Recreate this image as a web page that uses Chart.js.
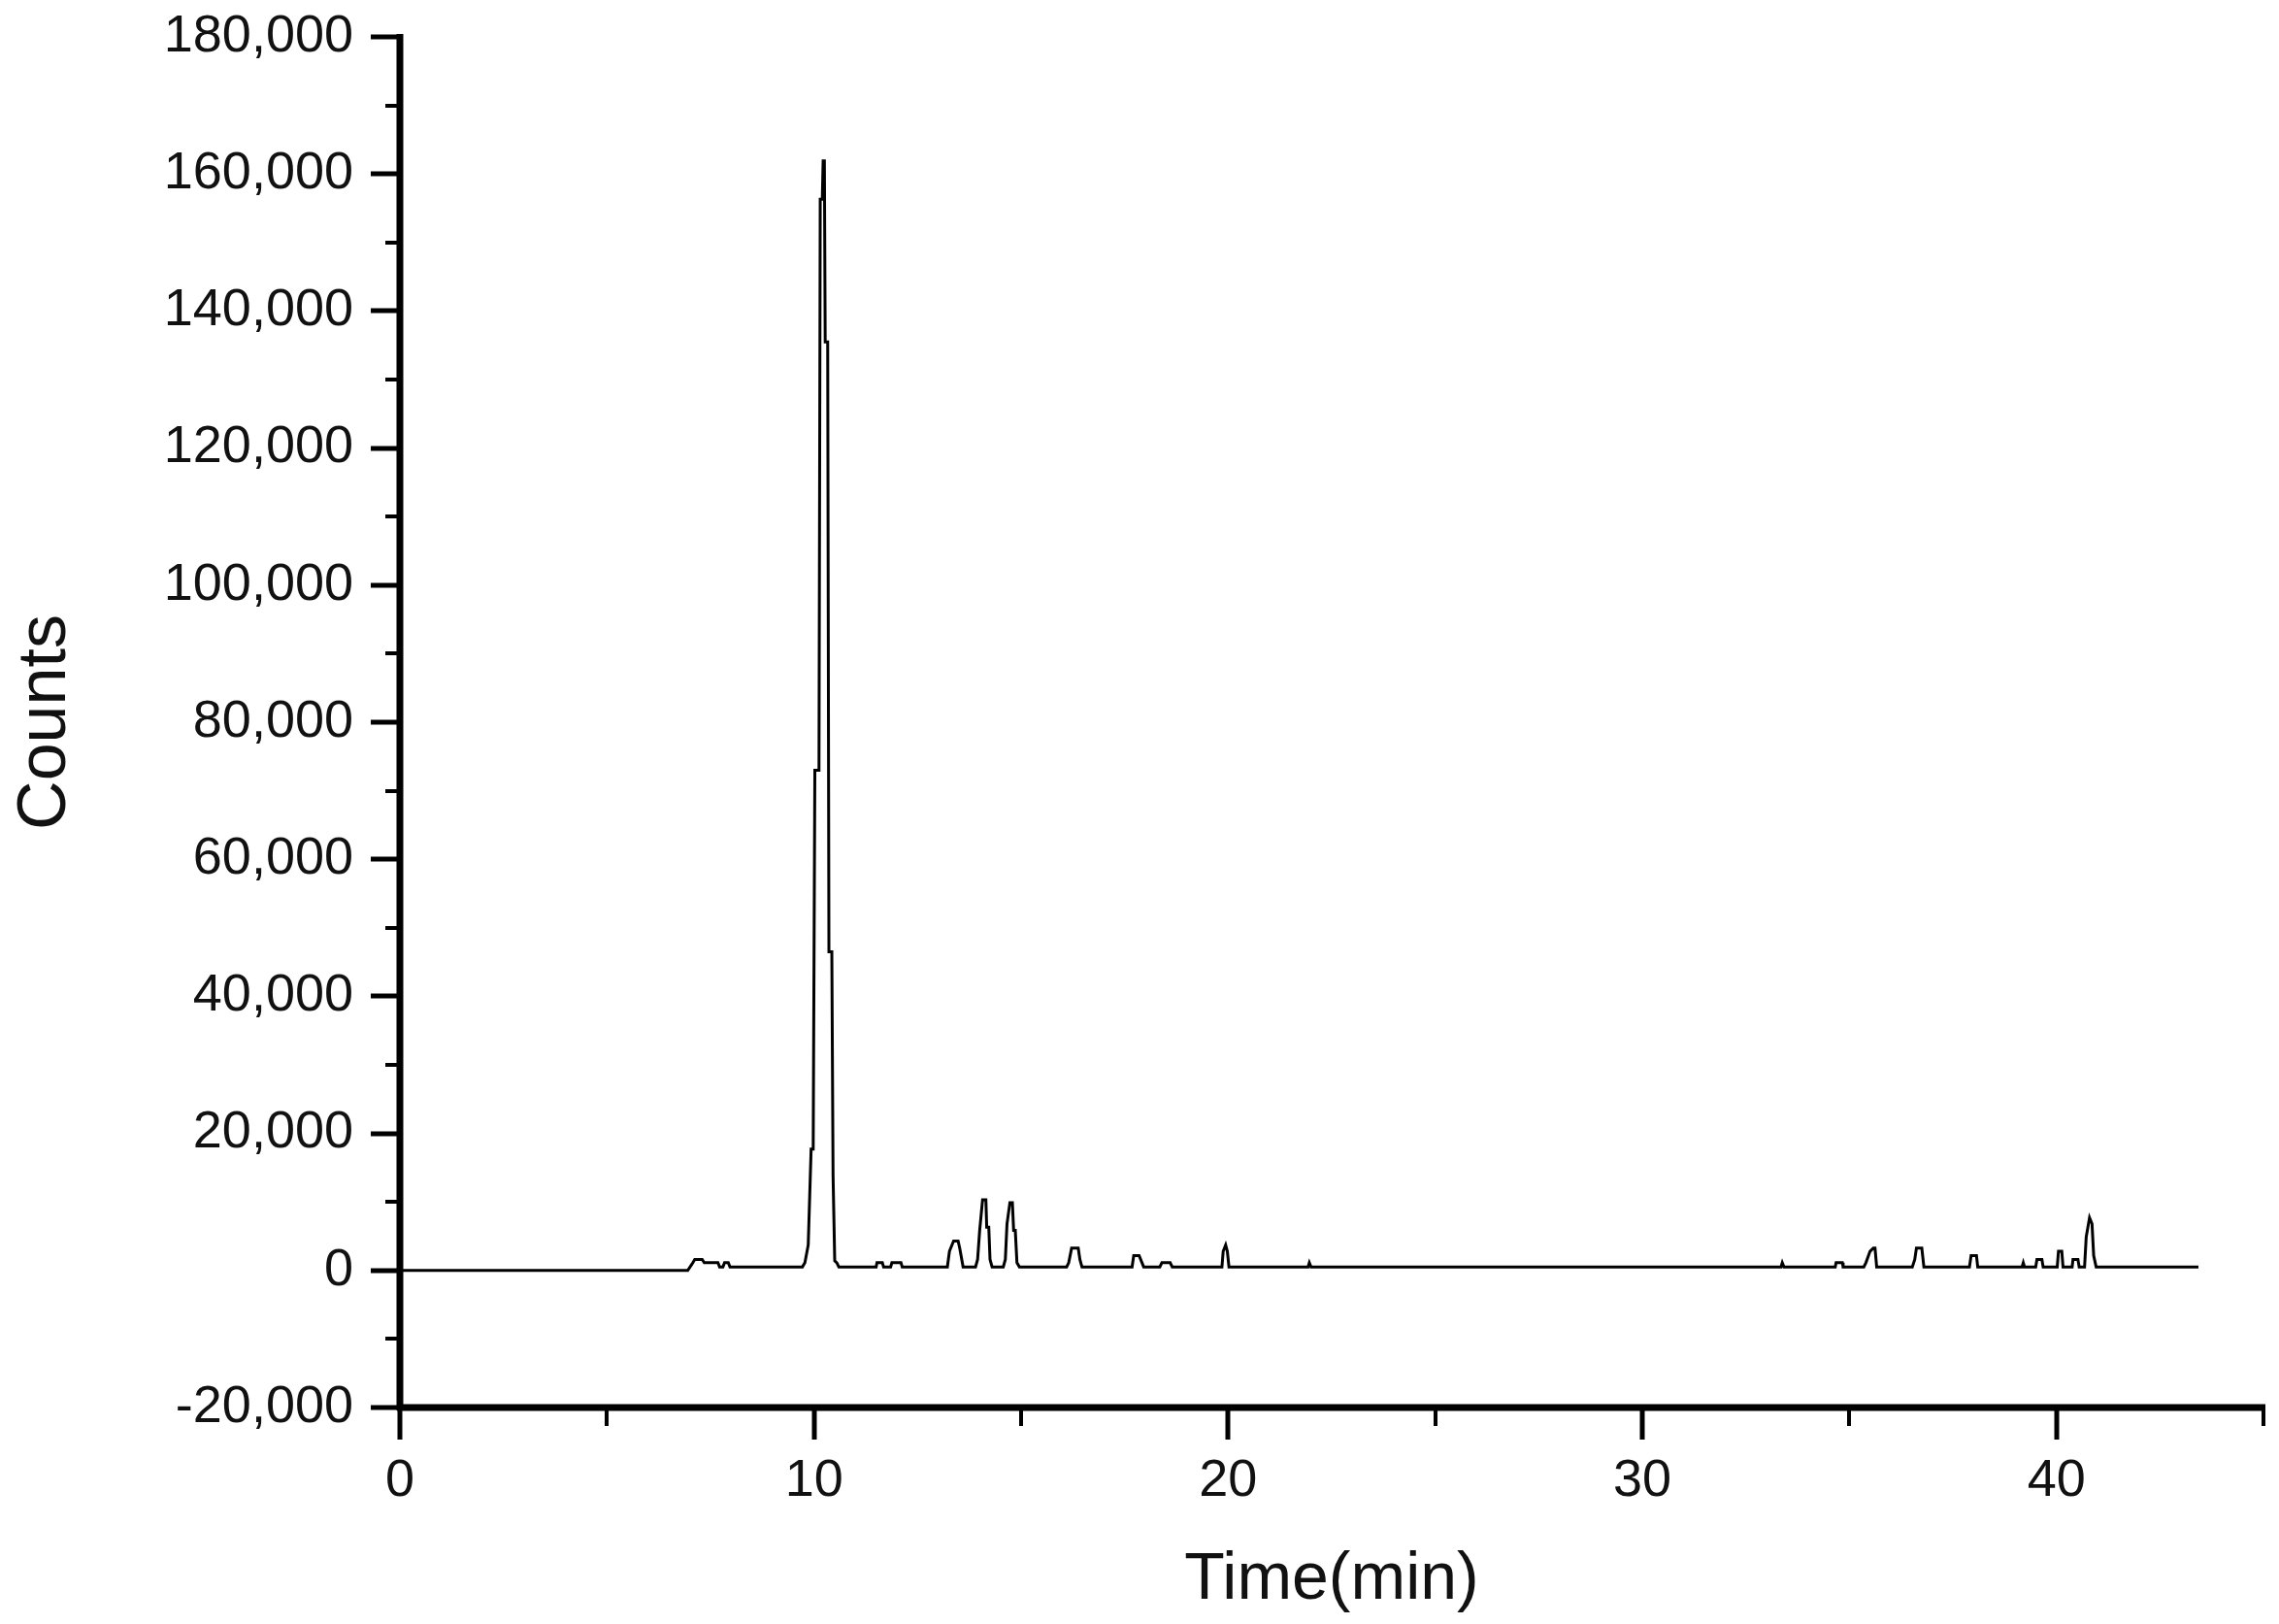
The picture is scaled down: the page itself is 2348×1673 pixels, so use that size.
<!DOCTYPE html>
<html>
<head>
<meta charset="utf-8">
<script src="https://cdn.jsdelivr.net/npm/chart.js@4.4.1/dist/chart.umd.min.js"></script>
<style>
  html, body { margin: 0; padding: 0; background: #fff; }
  #wrap { width: 2348px; height: 1673px; }
</style>
</head>
<body>
<div id="wrap"><canvas id="chrom"></canvas></div>
<script>
// retention time (min) and detector counts
const times = [
  0, 6.95, 7.05, 7.12, 7.3, 7.35, 7.68, 7.72, 7.8, 7.84, 7.93, 7.97,
  9.72, 9.78, 9.86, 9.93, 9.98, 10.02, 10.12, 10.15, 10.2, 10.22, 10.25, 10.27, 10.33, 10.36, 10.43, 10.46, 10.5, 10.55, 10.6,
  11.5, 11.52, 11.65, 11.68, 11.85, 11.88, 12.1, 12.13,
  13.22, 13.27, 13.37, 13.48, 13.52, 13.6, 13.9, 13.95, 14.0, 14.07, 14.15, 14.17, 14.22, 14.25, 14.3,
  14.57, 14.62, 14.66, 14.73, 14.79, 14.82, 14.86, 14.9, 14.96,
  16.1, 16.15, 16.22, 16.38, 16.42, 16.47,
  17.68, 17.72, 17.85, 17.92, 17.96, 18.35, 18.4, 18.6, 18.65,
  19.85, 19.88, 19.94, 19.98, 20.02, 21.93, 21.96, 22.0,
  33.35, 33.38, 33.42, 34.66, 34.68, 34.83, 34.85,
  35.35, 35.4, 35.5, 35.58, 35.62, 35.66, 36.52, 36.58, 36.62, 36.75, 36.8,
  37.9, 37.94, 38.07, 38.1, 39.17, 39.2, 39.23, 39.5, 39.53, 39.65, 39.68,
  40.02, 40.05, 40.13, 40.16, 40.38, 40.4, 40.52, 40.55, 40.68, 40.72, 40.8, 40.86, 40.9, 40.96, 43.43
];
const counts = [
  0, 0, 900, 1600, 1600, 1130, 1130, 520, 520, 1130, 1130, 520,
  520, 1130, 3700, 17700, 17700, 73000, 73000, 156300, 156300, 161900, 161900, 135500, 135500, 46500, 46500, 13800, 1400, 1130, 520,
  520, 1130, 1130, 520, 520, 1130, 1130, 520,
  520, 2800, 4300, 4300, 3200, 520, 520, 1600, 5840, 10300, 10300, 6300, 6300, 1600, 520,
  520, 1600, 6800, 9900, 9900, 5840, 5840, 1130, 520,
  520, 1130, 3250, 3250, 1600, 520,
  520, 2160, 2160, 1130, 520, 520, 1130, 1130, 520,
  520, 2800, 3720, 2800, 520, 520, 1130, 520,
  520, 1130, 520, 520, 1130, 1130, 520,
  520, 1130, 2790, 3250, 3250, 520, 520, 1600, 3250, 3250, 520,
  520, 2160, 2160, 520, 520, 1130, 520, 520, 1600, 1600, 520,
  520, 2790, 2790, 520, 520, 1600, 1600, 520, 520, 4900, 7700, 6800, 2160, 520, 520
];

const xMin = 0, xMax = 45, xMajor = 10, xMinor = 5;
const yMin = -20000, yMax = 180000, yMajor = 20000, yMinor = 10000;

const xTitle = 'Time(min)';
const yTitle = 'Counts';

const fontFamily = "'Liberation Sans', Arial, sans-serif";
const ink = '#000';

// Origin-style axes: thick spines with long major and short minor ticks
const originAxes = {
    id: 'originAxes',
    afterDraw(chart) {
        const { ctx, chartArea: a, scales: { x, y } } = chart;
        ctx.save();
        ctx.strokeStyle = ink;
        ctx.lineCap = 'butt';

        // ticks on y
        for (let v = yMin; v <= yMax; v += yMinor) {
            const major = v % yMajor === 0;
            const py = Math.round(y.getPixelForValue(v));
            ctx.lineWidth = major ? 5 : 4;
            ctx.beginPath();
            ctx.moveTo(a.left - (major ? 30 : 15), py);
            ctx.lineTo(a.left, py);
            ctx.stroke();
        }
        // ticks on x
        for (let v = xMin; v <= xMax; v += xMinor) {
            const major = v % xMajor === 0;
            const px = Math.round(x.getPixelForValue(v));
            ctx.lineWidth = major ? 5 : 4;
            ctx.beginPath();
            ctx.moveTo(px, a.bottom);
            ctx.lineTo(px, a.bottom + (major ? 33 : 19));
            ctx.stroke();
        }
        // spines
        ctx.lineWidth = 7;
        ctx.beginPath();
        ctx.moveTo(a.left, a.top - 3);
        ctx.lineTo(a.left, a.bottom + 3);
        ctx.moveTo(a.left - 3, a.bottom);
        ctx.lineTo(a.right + 2, a.bottom);
        ctx.stroke();
        ctx.restore();
    }
};

const ctx = document.getElementById('chrom').getContext('2d');
new Chart(ctx, {
    type: 'line',
    data: {
        datasets: [{
            label: 'TIC',
            data: times.map((t, i) => ({ x: t, y: counts[i] })),
            borderColor: ink,
            borderWidth: 3,
            pointRadius: 0,
            tension: 0,
            fill: false
        }]
    },
    options: {
        responsive: true,
        maintainAspectRatio: false,
        animation: false,
        layout: { padding: { top: 38, right: 16, left: 0, bottom: 0 } },
        plugins: {
            legend: { display: false },
            tooltip: { enabled: false }
        },
        scales: {
            x: {
                type: 'linear',
                min: xMin,
                max: xMax,
                // ticks are drawn by the plugin, tickLength only spaces the labels
                grid: { display: false, drawTicks: true, tickLength: 44 },
                border: { display: false },
                ticks: {
                    stepSize: xMinor,
                    autoSkip: false,
                    maxRotation: 0,
                    padding: 0,
                    color: '#111',
                    font: { family: fontFamily, size: 54 },
                    callback: v => (v % xMajor === 0 ? String(v) : '')
                },
                title: {
                    display: true,
                    text: xTitle,
                    color: '#111',
                    font: { family: fontFamily, size: 68 },
                    padding: { top: 0, bottom: 4 }
                },
                afterFit: s => { s.height = 223; }
            },
            y: {
                type: 'linear',
                min: yMin,
                max: yMax,
                grid: { display: false, drawTicks: true, tickLength: 48 },
                border: { display: false },
                ticks: {
                    stepSize: yMajor,
                    padding: 0,
                    color: '#111',
                    font: { family: fontFamily, size: 54 },
                    callback: v => v.toLocaleString('en-US')
                },
                title: {
                    display: true,
                    text: yTitle,
                    color: '#111',
                    font: { family: fontFamily, size: 70 },
                    padding: { top: 6, bottom: 0 }
                },
                afterFit: s => { s.width = 412; }
            }
        }
    },
    plugins: [originAxes]
});
</script>
</body>
</html>
